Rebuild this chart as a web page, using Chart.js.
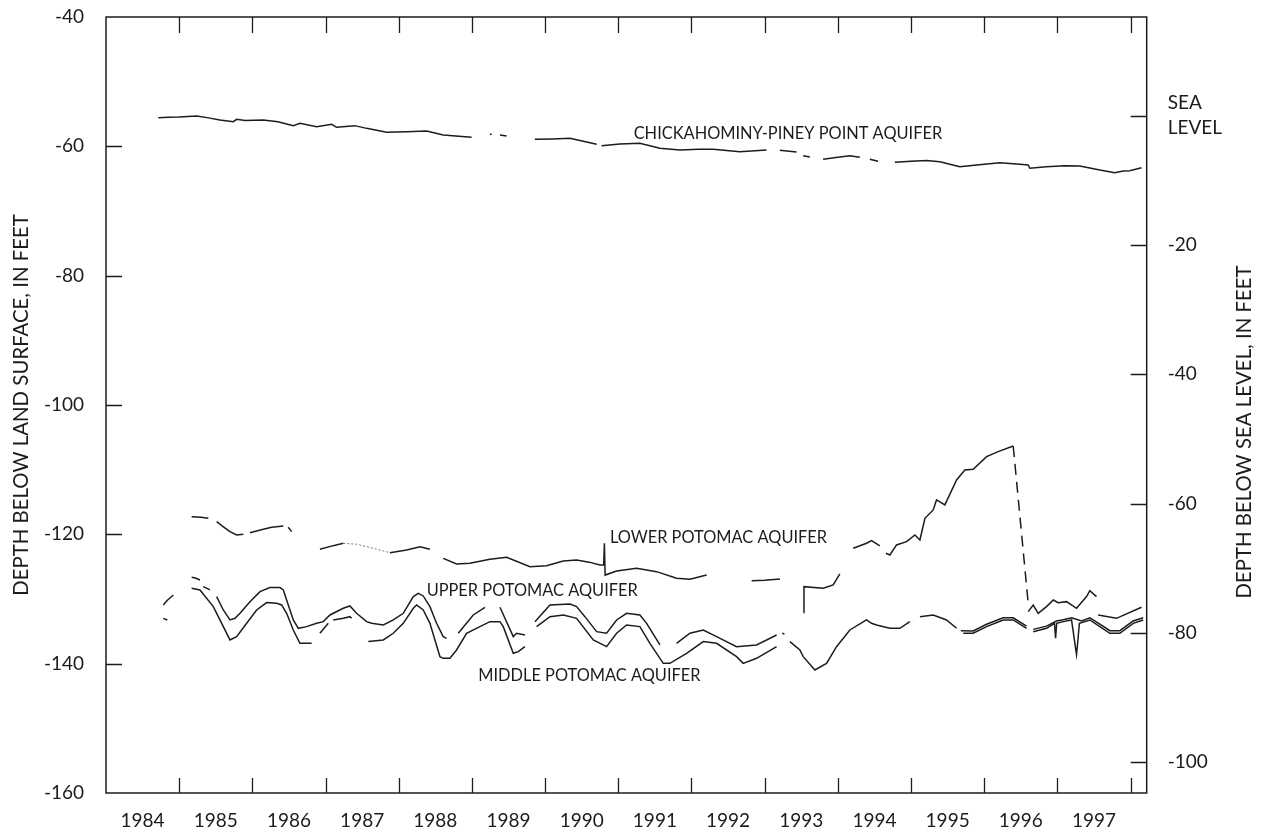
<!DOCTYPE html>
<html><head><meta charset="utf-8">
<script src="https://cdn.jsdelivr.net/npm/chart.js@4"></script>
<style>html,body{margin:0;padding:0;background:#fff}canvas{display:block}</style>
</head><body>
<canvas id="c" width="1265" height="830"></canvas>
<script>
const FONT = 'Lato, "DejaVu Sans", sans-serif';
const INK = '#1c1c1c';

// ---- axis ticks / labels ----
const yearLabels = [1984,1985,1986,1987,1988,1989,1990,1991,1992,1993,1994,1995,1996,1997];
const yearTicks  = [1985,1986,1987,1988,1989,1990,1991,1992,1993,1994,1995,1996,1997,1998];
const landTicks  = [-40,-60,-80,-100,-120,-140,-160];
const seaTicks   = [0,-20,-40,-60,-80,-100];
const SEA_OFFSET = 55.26;           // land-surface depth + offset = depth below sea level
const leftTitle  = 'DEPTH BELOW LAND SURFACE, IN FEET';
const rightTitle = 'DEPTH BELOW SEA LEVEL, IN FEET';

// ---- series (decimal year, depth below land surface in feet; null = gap) ----
const chickT = [1984.715,1984.85,1985.0,1985.239,1985.4,1985.557,1985.74,1985.785,1985.9,1986.149,1986.35,1986.559,1986.65,1986.878,1987.083,1987.15,1987.4,1987.561,1987.834,1988.108,1988.381,1988.608,1988.995,1989.1,1989.246,1989.27,1989.33,1989.383,1989.474,1989.6,1989.86,1990.1,1990.339,1990.704,1990.74,1990.772,1991.022,1991.295,1991.568,1991.842,1992.1,1992.297,1992.661,1993.025,1993.1,1993.207,1993.435,1993.48,1993.526,1993.617,1993.7,1993.799,1994.0,1994.164,1994.3,1994.38,1994.437,1994.55,1994.65,1994.779,1995.0,1995.212,1995.394,1995.667,1995.895,1996.214,1996.487,1996.6,1996.623,1996.851,1997.1,1997.306,1997.579,1997.784,1997.9,1997.989,1998.149];
const chickD = [-55.57,-55.5,-55.45,-55.31,-55.6,-55.93,-56.19,-55.82,-56.0,-55.93,-56.2,-56.8,-56.44,-56.96,-56.6,-57.06,-56.8,-57.22,-57.83,-57.73,-57.63,-58.25,-58.61,null,-58.14,-58.14,null,-58.25,-58.4,null,-58.92,-58.85,-58.76,-59.69,null,-59.9,-59.64,-59.53,-60.31,-60.57,-60.45,-60.46,-60.82,-60.57,null,-60.62,-60.88,null,-61.45,-61.66,null,-62.01,-61.7,-61.44,-61.7,null,-62.0,-62.3,null,-62.47,-62.3,-62.21,-62.37,-63.14,-62.89,-62.53,-62.78,-62.89,-63.4,-63.14,-63.0,-63.04,-63.66,-64.07,-63.81,-63.76,-63.3];

const lowT = [1985.17,1985.3,1985.398,1985.45,1985.512,1985.6,1985.694,1985.785,1985.876,1985.92,1985.967,1986.149,1986.263,1986.423,1986.46,1986.49,1986.537,1986.7,1986.923,1987.105,1987.242,1987.5,1987.88,1988.108,1988.29,1988.426,1988.52,1988.608,1988.79,1988.972,1989.246,1989.474,1989.793,1990.02,1990.248,1990.43,1990.6,1990.749,1990.8,1990.81,1990.82,1990.977,1991.25,1991.523,1991.796,1991.979,1992.207,1992.5,1992.822,1993.0,1993.209,1993.4,1993.536,1993.537,1993.8,1993.936,1994.027,1994.1,1994.21,1994.392,1994.46,1994.574,1994.62,1994.656,1994.711,1994.802,1994.939,1995.053,1995.121,1995.19,1995.303,1995.348,1995.462,1995.622,1995.735,1995.849,1996.032,1996.191,1996.396,1996.5,1996.601,1996.669,1996.737,1996.851,1996.943,1997.011,1997.125,1997.261,1997.398,1997.443,1997.534,1997.545,1997.557,1997.807,1998.149];
const lowD = [-117.27,-117.35,-117.53,null,-118.04,-118.8,-119.58,-120.1,-119.99,null,-119.74,-119.22,-118.91,-118.71,null,-118.9,-119.58,null,-122.31,-121.75,-121.38,null,-122.84,-122.42,-121.91,-122.31,null,-123.71,-124.58,-124.48,-123.86,-123.55,-125.0,-124.84,-124.12,-123.96,-124.3,-124.74,-124.74,-121.38,-126.3,-125.66,-125.25,-125.77,-126.8,-126.95,-126.28,null,-127.16,-127.1,-126.9,null,-132.11,-128.09,-128.35,-127.83,-126.13,null,-122.16,-121.38,-120.97,-121.8,null,-122.93,-123.19,-121.64,-121.13,-120.1,-120.87,-117.52,-116.23,-114.68,-115.45,-111.59,-110.05,-109.95,-107.99,-107.21,-106.34,null,-131.96,-130.93,-132.22,-131.18,-130.15,-130.56,-130.41,-131.44,-129.63,-128.71,-129.63,null,-132.47,-132.99,-131.28];
// faint dotted stretch (1987)
const lowDotT = [1987.242,1987.424,1987.652,1987.88];
const lowDotD = [-121.38,-121.54,-122.16,-122.84];
// dashed connection (1996 drop)
const lowDashT = [1996.396,1996.601];
const lowDashD = [-106.34,-130.67];

const upT = [1984.783,1984.838,1984.92,1985.0,1985.17,1985.22,1985.284,1985.31,1985.33,1985.421,1985.47,1985.512,1985.603,1985.694,1985.762,1985.831,1985.967,1986.104,1986.24,1986.377,1986.423,1986.468,1986.559,1986.628,1986.741,1986.878,1986.969,1987.06,1987.242,1987.333,1987.424,1987.561,1987.629,1987.789,1987.925,1988.062,1988.199,1988.267,1988.335,1988.426,1988.517,1988.608,1988.654,1988.73,1988.813,1989.018,1989.178,1989.28,1989.383,1989.565,1989.61,1989.724,1989.8,1989.861,1990.066,1990.339,1990.43,1990.544,1990.704,1990.84,1990.977,1991.113,1991.295,1991.387,1991.569,1991.68,1991.796,1991.979,1992.161,1992.343,1992.616,1992.889,1993.163,1993.2,1993.24,1993.27,1993.5,1995.68,1995.849,1996.032,1996.259,1996.396,1996.578,1996.62,1996.669,1996.851,1996.988,1997.079,1997.193,1997.33,1997.443,1997.58,1997.716,1997.853,1998.035,1998.172];
const upD = [-130.92,-130.2,-129.38,null,-126.65,-126.75,-127.06,null,-128.09,-128.6,null,-129.63,-131.7,-133.24,-132.99,-132.21,-130.41,-128.86,-128.24,-128.24,-128.6,-130.15,-133.24,-134.53,-134.27,-133.76,-133.5,-132.47,-131.44,-131.08,-132.21,-133.5,-133.76,-134.02,-133.24,-132.21,-129.63,-129.12,-129.53,-131.18,-133.76,-135.82,-136.08,null,-135.3,-132.47,-131.28,null,-131.28,-135.82,-135.3,-135.56,null,-133.5,-130.92,-130.77,-131.18,-132.73,-135.05,-135.3,-133.24,-132.21,-132.47,-133.76,-137.11,null,-136.85,-135.3,-134.79,-135.82,-137.37,-137.11,-135.56,null,-135.3,-135.4,null,-134.9,-134.95,-133.9,-132.9,-132.9,-134.2,null,-134.7,-134.2,-133.4,-133.2,-132.9,-133.4,-132.9,-133.9,-134.9,-134.9,-133.4,-132.9];

const midT = [1984.783,1984.838,1985.0,1985.17,1985.284,1985.466,1985.603,1985.694,1985.785,1985.922,1986.058,1986.195,1986.332,1986.4,1986.468,1986.559,1986.65,1986.81,1986.86,1986.923,1987.037,1987.07,1987.105,1987.242,1987.333,1987.356,1987.47,1987.584,1987.789,1987.925,1988.062,1988.199,1988.244,1988.335,1988.426,1988.563,1988.608,1988.699,1988.79,1988.927,1989.109,1989.246,1989.383,1989.428,1989.565,1989.633,1989.724,1989.8,1989.884,1990.066,1990.248,1990.43,1990.658,1990.84,1990.977,1991.113,1991.295,1991.432,1991.614,1991.705,1991.933,1992.161,1992.343,1992.616,1992.707,1992.889,1993.163,1993.25,1993.345,1993.481,1993.527,1993.686,1993.845,1993.982,1994.164,1994.392,1994.46,1994.529,1994.711,1994.847,1994.984,1995.05,1995.121,1995.303,1995.485,1995.622,1995.66,1995.713,1995.849,1996.032,1996.259,1996.396,1996.578,1996.62,1996.669,1996.851,1996.96,1996.975,1996.99,1997.079,1997.193,1997.245,1997.261,1997.275,1997.3,1997.443,1997.58,1997.716,1997.853,1998.035,1998.172];
const midD = [-132.99,-133.24,null,-128.35,-128.6,-131.18,-134.27,-136.33,-135.82,-133.76,-131.7,-130.56,-130.67,-130.92,-132.21,-134.79,-136.85,-136.85,null,-135.3,-133.76,null,-133.24,-132.99,-132.73,-132.99,null,-136.59,-136.33,-135.3,-133.76,-131.44,-130.92,-131.7,-133.76,-138.91,-139.17,-139.17,-137.88,-135.3,-134.27,-133.5,-133.5,-134.27,-138.4,-138.14,-137.37,null,-134.27,-132.73,-132.47,-132.99,-136.33,-137.37,-135.3,-134.02,-134.27,-136.85,-139.95,-139.95,-138.4,-136.59,-136.85,-138.91,-139.95,-139.17,-137.37,null,-136.59,-137.88,-138.91,-140.98,-139.95,-137.37,-134.79,-133.24,-133.76,-134.02,-134.53,-134.53,-133.5,null,-132.73,-132.47,-133.24,-134.53,null,-135.3,-135.3,-134.27,-133.24,-133.24,-134.53,null,-135.05,-134.53,-133.76,-136.08,-133.76,-133.5,-133.24,-137.37,-138.6,-137.0,-133.76,-133.24,-134.27,-135.3,-135.3,-133.76,-133.24];

// ---- in-plot labels (decimal year, depth at text baseline) ----
const noteText = ['CHICKAHOMINY-PINEY POINT AQUIFER','LOWER POTOMAC AQUIFER','UPPER POTOMAC AQUIFER','MIDDLE POTOMAC AQUIFER'];
const noteYear = [1991.21,1990.885,1988.381,1989.086];
const noteDepth = [-58.91,-121.29,-129.53,-142.67];

function pts(T, D) { return T.map((t, i) => ({x: t, y: D[i]})); }
const lineStyle = {borderColor: INK, borderWidth: 1.5, pointRadius: 0, tension: 0, spanGaps: false, fill: false};

const decor = {
  id: 'decor',
  afterDatasetsDraw(chart) {
    const {ctx, chartArea: a, scales} = chart;
    const x = scales.x, y = scales.y, y2 = scales.y2;
    ctx.save();
    ctx.strokeStyle = INK;
    ctx.lineWidth = 1.5;
    ctx.strokeRect(a.left, a.top, a.right - a.left, a.bottom - a.top);
    ctx.lineWidth = 1.3;
    ctx.beginPath();
    yearTicks.forEach(t => {
      const px = Math.round(x.getPixelForValue(t)) + 0.5;
      ctx.moveTo(px, a.bottom); ctx.lineTo(px, a.bottom - 15);
      ctx.moveTo(px, a.top); ctx.lineTo(px, a.top + 16);
    });
    landTicks.forEach(v => {
      if (v === -40 || v === -160) return;
      const py = Math.round(y.getPixelForValue(v)) + 0.5;
      ctx.moveTo(a.left, py); ctx.lineTo(a.left + 16, py);
    });
    seaTicks.forEach(v => {
      const py = Math.round(y2.getPixelForValue(v)) + 0.5;
      ctx.moveTo(a.right, py); ctx.lineTo(a.right - 16, py);
    });
    ctx.stroke();

    ctx.fillStyle = INK;
    ctx.font = '20.4px ' + FONT;
    ctx.textAlign = 'center';
    ctx.textBaseline = 'middle';
    ctx.save(); ctx.translate(21, (a.top + a.bottom) / 2); ctx.rotate(-Math.PI / 2); ctx.fillText(leftTitle, 0, 0); ctx.restore();
    ctx.save(); ctx.translate(1244, 432); ctx.rotate(-Math.PI / 2); ctx.fillText(rightTitle, 0, 0); ctx.restore();

    ctx.textAlign = 'left';
    ctx.textBaseline = 'alphabetic';
    ctx.font = '16.4px ' + FONT;
    noteText.forEach((s, i) => {
      ctx.fillText(s, x.getPixelForValue(noteYear[i]), y.getPixelForValue(noteDepth[i]));
    });
    ctx.restore();
  }
};

function fixX(s) { s.height = 37; s.paddingLeft = 0; s.paddingRight = 0; }
function fixY(w) { return s => { s.width = w; s.paddingTop = 0; s.paddingBottom = 0; }; }

new Chart(document.getElementById('c'), {
  type: 'line',
  data: {
    datasets: [
      Object.assign({label: 'Chickahominy-Piney Point', data: pts(chickT, chickD)}, lineStyle),
      Object.assign({label: 'Lower Potomac', data: pts(lowT, lowD)}, lineStyle),
      Object.assign({label: 'Lower Potomac (faint)', data: pts(lowDotT, lowDotD)}, lineStyle, {borderColor: '#777', borderWidth: 1, borderDash: [2, 2]}),
      Object.assign({label: 'Lower Potomac (dashed)', data: pts(lowDashT, lowDashD)}, lineStyle, {borderDash: [11, 7]}),
      Object.assign({label: 'Upper Potomac', data: pts(upT, upD)}, lineStyle),
      Object.assign({label: 'Middle Potomac', data: pts(midT, midD)}, lineStyle)
    ]
  },
  options: {
    responsive: false,
    animation: false,
    devicePixelRatio: 1,
    layout: {padding: {top: 17, left: 0, right: 0, bottom: 0}},
    plugins: {legend: {display: false}, tooltip: {enabled: false}},
    scales: {
      x: {
        type: 'linear', position: 'bottom', min: 1984, max: 1998.22,
        afterBuildTicks: s => { s.ticks = yearLabels.map(v => ({value: v + 0.5})); },
        afterFit: fixX,
        ticks: {callback: v => String(Math.floor(v)), font: {family: FONT, size: 19}, color: INK, padding: 8, maxRotation: 0, autoSkip: false},
        grid: {display: false}, border: {display: false}
      },
      y: {
        type: 'linear', position: 'left', min: -160, max: -40,
        afterBuildTicks: s => { s.ticks = landTicks.map(v => ({value: v})); },
        afterFit: fixY(106),
        ticks: {callback: v => String(v), font: {family: FONT, size: 19}, color: INK, padding: 14},
        grid: {display: false}, border: {display: false}
      },
      y2: {
        type: 'linear', position: 'right', min: -160 + SEA_OFFSET, max: -40 + SEA_OFFSET,
        afterBuildTicks: s => { s.ticks = seaTicks.map(v => ({value: v})); },
        afterFit: fixY(118.3),
        ticks: {callback: v => v === 0 ? ['SEA', 'LEVEL'] : String(v), font: {family: FONT, size: 19, lineHeight: 1.3}, color: INK, padding: 13},
        grid: {display: false}, border: {display: false}
      }
    }
  },
  plugins: [decor]
});
</script>
</body></html>
